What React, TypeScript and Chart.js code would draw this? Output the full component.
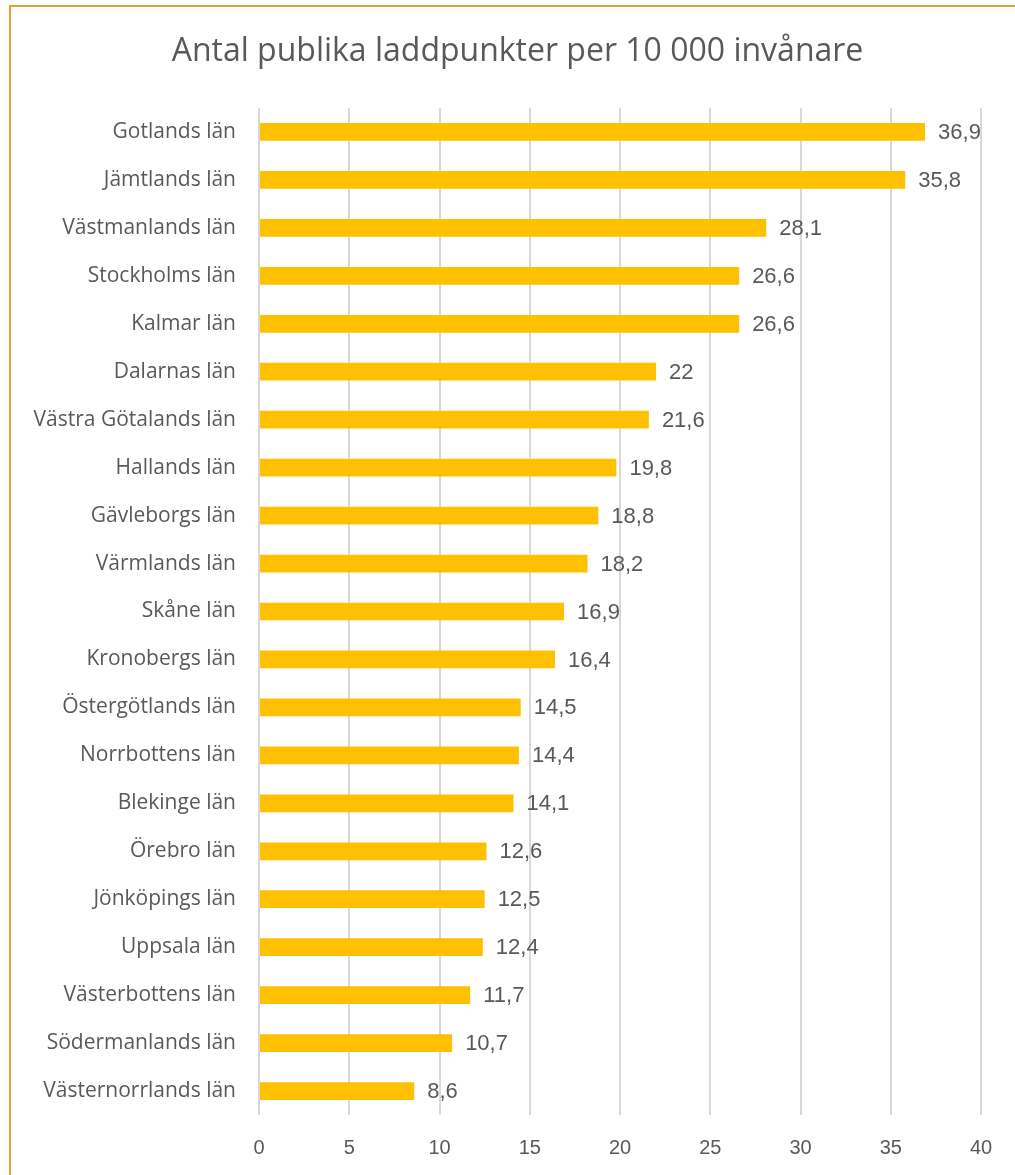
import React, { useEffect, useRef } from "react";
import { Chart, registerables } from "chart.js";

Chart.register(...registerables);

const TITLE = "Antal publika laddpunkter per 10 000 invånare";
const categories = [
  "Gotlands län",
  "Jämtlands län",
  "Västmanlands län",
  "Stockholms län",
  "Kalmar län",
  "Dalarnas län",
  "Västra Götalands län",
  "Hallands län",
  "Gävleborgs län",
  "Värmlands län",
  "Skåne län",
  "Kronobergs län",
  "Östergötlands län",
  "Norrbottens län",
  "Blekinge län",
  "Örebro län",
  "Jönköpings län",
  "Uppsala län",
  "Västerbottens län",
  "Södermanlands län",
  "Västernorrlands län",
];
const values = [36.9, 35.8, 28.1, 26.6, 26.6, 22, 21.6, 19.8, 18.8, 18.2, 16.9, 16.4, 14.5, 14.4, 14.1, 12.6, 12.5, 12.4, 11.7, 10.7, 8.6];
const xMin = 0;
const xMax = 40;
const xStep = 5;

const FONT = "'Open Sans', 'Noto Sans', sans-serif";
const NUMFONT = "'Liberation Sans', Arial, sans-serif";
const TEXT = "#595959";

const fmt = (v: number) => String(v).replace(".", ",");

const valueLabels = {
  id: "valueLabels",
  afterDatasetsDraw(chart: any) {
    const ctx = chart.ctx;
    const meta = chart.getDatasetMeta(0);
    ctx.save();
    ctx.fillStyle = TEXT;
    ctx.font = `22px ${NUMFONT}`;
    ctx.textAlign = "left";
    ctx.textBaseline = "middle";
    meta.data.forEach((bar: any, i: number) => {
      ctx.fillText(fmt(values[i]), bar.x + 13, bar.y + 1);
    });
    ctx.restore();
  },
};

const titlePlugin = {
  id: "offsetTitle",
  afterDraw(chart: any) {
    const ctx = chart.ctx;
    ctx.save();
    ctx.fillStyle = TEXT;
    ctx.font = `32px ${FONT}`;
    ctx.textAlign = "center";
    ctx.textBaseline = "middle";
    ctx.fillText(TITLE, chart.width / 2 + 10, 52);
    ctx.restore();
  },
};

export default function App() {
  const ref = useRef<HTMLCanvasElement | null>(null);
  useEffect(() => {
    if (!ref.current) return;
    const chart = new Chart(ref.current, {
      type: "bar",
      data: {
        labels: categories,
        datasets: [
          {
            data: values,
            backgroundColor: "#FFC000",
            borderWidth: 0,
            categoryPercentage: 1,
            barPercentage: 0.37,
          },
        ],
      },
      options: {
        indexAxis: "y",
        animation: false,
        responsive: false,
        devicePixelRatio: 1,
        layout: { padding: { left: 0, right: 34, top: 108, bottom: 0 } },
        plugins: {
          legend: { display: false },
          tooltip: { enabled: false },
          title: { display: false },
        },
        scales: {
          x: {
            min: xMin,
            max: xMax,
            ticks: {
              stepSize: xStep,
              color: TEXT,
              font: { family: NUMFONT, size: 20 },
              padding: 21,
            },
            grid: { color: "#D9D9D9", lineWidth: 2, drawTicks: false },
            border: { display: false },
            afterFit: (s: any) => {
              s.height = 60;
            },
          },
          y: {
            ticks: {
              color: TEXT,
              font: { family: FONT, size: 21 },
              padding: 23,
            },
            grid: { display: false, drawTicks: false },
            border: { display: false },
            afterFit: (s: any) => {
              s.width = 259;
            },
          },
        },
      },
      plugins: [valueLabels, titlePlugin],
    });
    return () => chart.destroy();
  }, []);
  return (
    <div style={{ position: "fixed", left: 0, top: 0, width: 1015, height: 1175, overflow: "hidden", background: "#fff" }}>
      <div
        style={{
          position: "absolute",
          left: 9,
          top: 5,
          right: 0,
          bottom: 0,
          borderLeft: "2px solid #D6A534",
          borderTop: "2px solid #D6A534",
        }}
      />
      <canvas ref={ref} width={1015} height={1175} style={{ position: "absolute", left: 0, top: 0 }} />
    </div>
  );
}
